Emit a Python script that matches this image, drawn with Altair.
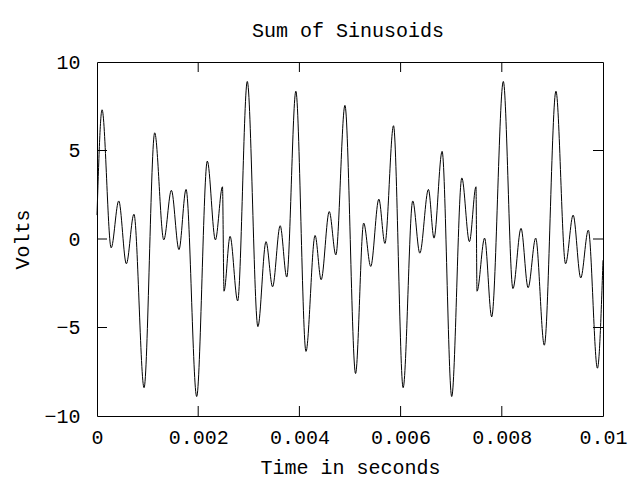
import altair as alt
import pandas as pd

# digitised extrema of the waveform (seconds, volts)
time_s = [0.0, 0.00010, 0.00028, 0.00043, 0.00058, 0.00073, 0.00093, 0.00114,
          0.00132, 0.00147, 0.00162, 0.00176, 0.00197, 0.00218, 0.00234, 0.00248,
          0.00251, 0.00263, 0.00278, 0.00297, 0.00318, 0.00334, 0.00347, 0.00362,
          0.00375, 0.00393, 0.00413, 0.00431, 0.00443, 0.00459, 0.00472, 0.00490,
          0.00511, 0.00527, 0.00541, 0.00557, 0.00569, 0.00586, 0.00605, 0.00624,
          0.00638, 0.00655, 0.00666, 0.00682, 0.00701, 0.00721, 0.00736, 0.00749,
          0.00751, 0.00766, 0.00780, 0.00803, 0.00822, 0.00838, 0.00852, 0.00867,
          0.00884, 0.00907, 0.00926, 0.00941, 0.00956, 0.00971, 0.00989, 0.01000]
volts = [1.35, 7.3, -0.5, 2.15, -1.4, 1.4, -8.4, 6.0,
         -0.05, 2.75, -0.6, 2.8, -8.9, 4.4, -0.05, 2.95,
         -2.95, 0.15, -3.5, 8.9, -4.95, -0.15, -2.7, 0.75,
         -2.15, 8.35, -6.35, 0.2, -2.3, 1.55, -0.9, 7.55,
         -7.6, 0.9, -1.55, 2.25, -0.25, 6.4, -8.4, 2.15,
         -0.8, 2.8, 0.05, 4.95, -8.9, 3.45, -0.15, 2.95,
         -2.95, 0.05, -4.4, 8.9, -2.8, 0.6, -2.75, 0.05,
         -6.0, 8.35, -1.4, 1.35, -2.2, 0.5, -7.3, -1.2]

x_label_values = [0, 0.002, 0.004, 0.006, 0.008, 0.01]
y_label_values = [-10, -5, 0, 5, 10]
x_tick_values = [0.002, 0.004, 0.006, 0.008]
y_tick_values = [-5, 0, 5]
chart_title = ["Sum of Sinusoids"]

FONT = "Liberation Mono"
W, H = 506, 354
TICK = 10

df = pd.DataFrame({"t": time_s, "v": volts})
xt = pd.DataFrame({"t": x_tick_values})
yt = pd.DataFrame({"v": y_tick_values})
tt = pd.DataFrame({"title": chart_title})

xscale = alt.Scale(domain=[0, 0.01], nice=False, zero=False)
yscale = alt.Scale(domain=[-10, 10], nice=False, zero=False)

common_axis = dict(
    ticks=False, tickSize=0, domain=False, grid=False, labelFlush=False,
    labelFont=FONT, labelFontSize=20, labelColor="black",
    titleFont=FONT, titleFontSize=20, titleFontWeight="normal", titleColor="black",
)

line = alt.Chart(df).mark_line(color="black", strokeWidth=1, interpolate="monotone").encode(
    x=alt.X("t:Q", scale=xscale,
            axis=alt.Axis(values=x_label_values, format="~f", title="Time in seconds",
                          labelPadding=11, titleY=57, titleBaseline="alphabetic", **common_axis)),
    y=alt.Y("v:Q", scale=yscale,
            axis=alt.Axis(values=y_label_values, format="~f", title="Volts",
                          labelPadding=17, titleX=-75, titleY=H / 2, titleAngle=270,
                          titleAlign="center", titleBaseline="middle", **common_axis)),
)

tick_style = dict(color="black", strokeWidth=1)
x_top = alt.Chart(xt).mark_rule(**tick_style).encode(
    x=alt.X("t:Q", scale=xscale), y=alt.value(0), y2=alt.value(TICK))
x_bot = alt.Chart(xt).mark_rule(**tick_style).encode(
    x=alt.X("t:Q", scale=xscale), y=alt.value(H), y2=alt.value(H - TICK))
y_left = alt.Chart(yt).mark_rule(**tick_style).encode(
    y=alt.Y("v:Q", scale=yscale), x=alt.value(0), x2=alt.value(TICK))
y_right = alt.Chart(yt).mark_rule(**tick_style).encode(
    y=alt.Y("v:Q", scale=yscale), x=alt.value(W), x2=alt.value(W - TICK))

title = alt.Chart(tt).mark_text(
    font=FONT, fontSize=20, color="black", align="center", baseline="alphabetic"
).encode(text="title:N", x=alt.value(W / 2 - 2), y=alt.value(-25))

chart = alt.layer(line, x_top, x_bot, y_left, y_right, title).properties(
    width=W, height=H,
    autosize=alt.AutoSizeParams(type="none"),
    padding={"left": 89, "top": 54, "right": 29, "bottom": 66},
    background="white",
).configure_view(stroke="black", strokeWidth=1)

chart.save("out.html", embed_options={"renderer": "svg", "actions": False})
